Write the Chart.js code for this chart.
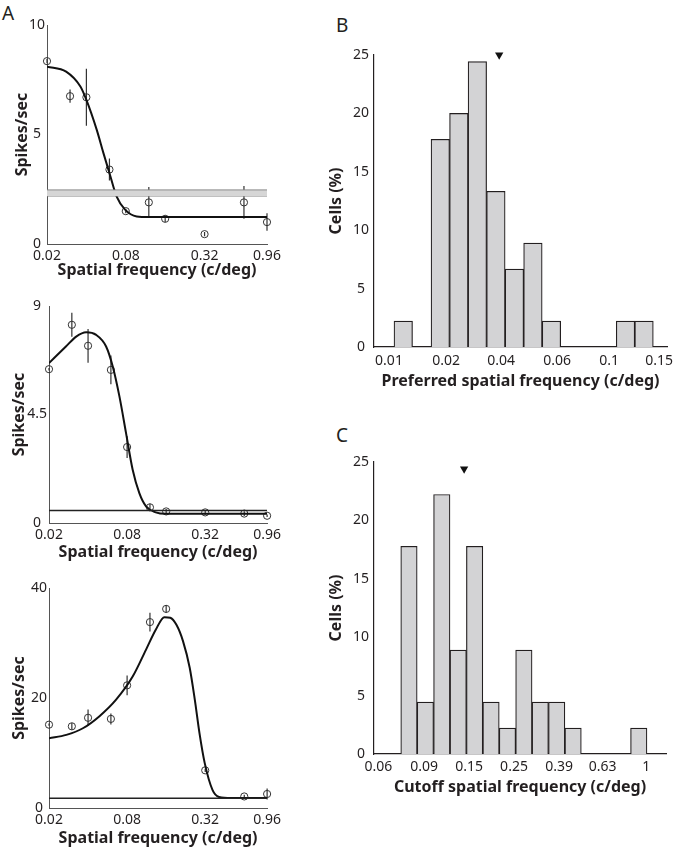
<!DOCTYPE html>
<html>
<head>
<meta charset="utf-8">
<title>Spatial frequency tuning</title>
<script src="https://cdn.jsdelivr.net/npm/chart.js@4.4.1/dist/chart.umd.min.js"></script>
<style>
  body { margin: 0; background: #fff; }
  #page { position: relative; width: 680px; height: 850px; overflow: hidden; }
  .panel { position: absolute; }
  .panel canvas { display: block; }
  .letter { position: absolute; font: 19px/19px 'Noto Sans', sans-serif; color: #231f20; }
</style>
</head>
<body>
<div id="page">
  <div class="letter" style="left:2px;top:4px">A</div>
  <div class="letter" style="left:336px;top:16px">B</div>
  <div class="letter" style="left:336px;top:426px">C</div>
  <div class="panel" style="left:0;top:0"><canvas id="tuning1" width="285" height="280"></canvas></div>
  <div class="panel" style="left:0;top:281px"><canvas id="tuning2" width="285" height="281"></canvas></div>
  <div class="panel" style="left:0;top:563px"><canvas id="tuning3" width="285" height="285"></canvas></div>
  <div class="panel" style="left:325px;top:25px"><canvas id="prefHist" width="355" height="366"></canvas></div>
  <div class="panel" style="left:325px;top:437px"><canvas id="cutoffHist" width="355" height="360"></canvas></div>
</div>
<script>
// ---- panel A: tuning curves of three example cells ----
const sfTested = [0.02, 0.03, 0.04, 0.06, 0.08, 0.12, 0.16, 0.32, 0.64, 0.96];
const sfTicks = [0.02, 0.08, 0.32, 0.96];

const cell1Mean = [8.35, 6.75, 6.7, 3.4, 1.5, 1.9, 1.15, 0.45, 1.9, 1.0];
const cell1Sem = [0.1, 0.3, 1.3, 0.5, 0.1, 0.7, 0.15, 0.1, 0.75, 0.4];
const cell1FitX = [0.02, 0.028, 0.036, 0.04, 0.048, 0.054, 0.061, 0.068, 0.079, 0.097, 0.12, 0.96];
const cell1FitY = [8.1, 7.87, 7.19, 6.58, 5.21, 4.15, 3.09, 2.17, 1.57, 1.26, 1.23, 1.23];
const cell1Spont = 2.33;
const cell1SpontSd = 0.14;
const cell1YTicks = [0, 5, 10];

const cell2Mean = [6.38, 8.22, 7.35, 6.35, 3.15, 0.65, 0.48, 0.44, 0.39, 0.3];
const cell2Sem = [0.05, 0.5, 0.7, 0.6, 0.45, 0.15, 0.1, 0.1, 0.1, 0.05];
const cell2FitX = [0.02, 0.027, 0.0324, 0.0387, 0.0462, 0.0551, 0.062, 0.0698, 0.0785, 0.0883, 0.0994, 0.112, 0.133, 0.159, 0.96];
const cell2FitY = [6.63, 7.32, 7.73, 7.91, 7.8, 7.32, 6.49, 5.25, 3.73, 2.21, 1.24, 0.69, 0.44, 0.38, 0.38];
const cell2Spont = 0.52;
const cell2YTicks = [0, 4.5, 9];

const cell3Mean = [15.15, 14.85, 16.4, 16.2, 22.3, 33.8, 36.2, 6.85, 2.1, 2.55];
const cell3Sem = [0.2, 0.6, 1.5, 1.0, 1.8, 1.7, 0.7, 0.3, 0.3, 1.0];
const cell3FitX = [0.02, 0.0272, 0.0365, 0.049, 0.0658, 0.0883, 0.112, 0.133, 0.155, 0.172, 0.192, 0.216, 0.243, 0.266, 0.289, 0.317, 0.364, 0.409, 0.508, 0.96];
const cell3FitY = [12.7, 13.3, 14.5, 16.7, 19.7, 23.9, 28.8, 32.4, 34.7, 34.6, 33.3, 30.3, 25.5, 19.7, 13.6, 8.2, 3.3, 2.0, 1.8, 1.8];
const cell3Spont = 1.76;
const cell3YTicks = [0, 20, 40];

// ---- panel B: preferred spatial frequency histogram (% of 45 cells) ----
const prefPct = [2.22, 0, 17.78, 20, 24.44, 13.33, 6.67, 8.89, 2.22, 0, 0, 0, 2.22, 2.22];
const prefTickLabels = ['0.01', '0.02', '0.04', '0.06', '0.1', '0.15'];
const prefTickBins = [-0.27, 2.81, 5.78, 8.81, 11.62, 14.32];
const prefMedianBin = 5.68;

// ---- panel C: cutoff spatial frequency histogram ----
const cutoffPct = [17.78, 4.44, 22.22, 8.89, 17.78, 4.44, 2.22, 8.89, 4.44, 4.44, 2.22, 0, 0, 0, 2.22];
const cutoffTickLabels = ['0.06', '0.09', '0.15', '0.25', '0.39', '0.63', '1'];
const cutoffTickBins = [-1.37, 1.42, 4.16, 6.9, 9.65, 12.3, 14.95];
const cutoffMedianBin = 3.86;

const pctTicks = [0, 5, 10, 15, 20, 25];

Chart.defaults.font.family = "'Noto Sans', sans-serif";
Chart.defaults.color = '#231f20';
Chart.defaults.animation = false;
Chart.defaults.plugins.legend.display = false;
Chart.defaults.plugins.tooltip.enabled = false;

const tickFont = {size: 14};
const titleFont = {size: 16, weight: 'bold'};

function hLine(y) {
    return [{x: sfTicks[0], y: y}, {x: sfTicks[sfTicks.length - 1], y: y}];
}

function errorBars(mean, sem) {
    let pts = [];
    for (let i = 0; i < sfTested.length; i++) {
        pts.push({x: sfTested[i], y: mean[i] - sem[i]});
        pts.push({x: sfTested[i], y: mean[i] + sem[i]});
        pts.push({x: sfTested[i], y: null});
    }
    return pts;
}

function makeTuning(id, mean, sem, fitX, fitY, spont, spontSd, yTicks, lay) {
    let datasets = [];
    if (spontSd) {
        datasets.push({data: hLine(spont + spontSd), borderColor: '#8a8a8a', borderWidth: 1,
            backgroundColor: '#d6d6d6', fill: '+1', pointRadius: 0});
        datasets.push({data: hLine(spont - spontSd), borderColor: '#8a8a8a', borderWidth: 1,
            fill: false, pointRadius: 0});
    }
    datasets.push({data: hLine(spont), borderColor: '#222', borderWidth: 1.5, pointRadius: 0});
    datasets.push({data: fitX.map((x, i) => ({x: x, y: fitY[i]})), borderColor: '#111',
        borderWidth: 2, pointRadius: 0, cubicInterpolationMode: 'monotone'});
    datasets.push({data: errorBars(mean, sem), borderColor: '#333', borderWidth: 1.2,
        pointRadius: 0, spanGaps: false, clip: false});
    datasets.push({data: sfTested.map((x, i) => ({x: x, y: mean[i]})), showLine: false,
        pointRadius: 3.6, pointBorderWidth: 1, pointBorderColor: '#333',
        pointBackgroundColor: 'rgba(0,0,0,0)', clip: false});

    new Chart(document.getElementById(id), {
        type: 'line',
        data: {datasets: datasets},
        options: {
            responsive: false,
            layout: {padding: {top: 25, right: 285 - lay.right, left: 0, bottom: 0}},
            scales: {
                x: {
                    type: 'logarithmic', min: sfTicks[0], max: sfTicks[sfTicks.length - 1],
                    afterBuildTicks: s => { s.ticks = sfTicks.map(v => ({value: v})); },
                    afterFit: s => { s.height = lay.xh; },
                    grid: {display: false, drawTicks: false},
                    border: {display: true, color: '#555', width: 1},
                    ticks: {autoSkip: false, maxRotation: 0, padding: 4, font: tickFont,
                        callback: v => String(v)},
                    title: {display: true, text: 'Spatial frequency (c/deg)', font: titleFont, padding: 0}
                },
                y: {
                    min: yTicks[0], max: yTicks[yTicks.length - 1],
                    afterBuildTicks: s => { s.ticks = yTicks.map(v => ({value: v})); },
                    afterFit: s => { s.width = lay.left; },
                    grid: {display: false, drawTicks: false},
                    border: {display: true, color: '#555', width: 1},
                    ticks: {crossAlign: 'center', padding: 2, font: tickFont, callback: v => String(v)},
                    title: {display: true, text: 'Spikes/sec', font: titleFont, padding: {top: lay.yPad, bottom: 0}}
                }
            }
        }
    });
}

function makeHist(id, pct, tickBins, tickLabels, medianBin, medianY, xMin, xMax, title, lay) {
    new Chart(document.getElementById(id), {
        type: 'bar',
        data: {
            datasets: [
                {
                    type: 'scatter',
                    data: [{x: medianBin, y: medianY}],
                    pointStyle: 'triangle', rotation: 180, pointRadius: 4.8,
                    backgroundColor: '#111', borderColor: '#111', borderWidth: 0, clip: false
                },
                {
                    data: pct.map((v, i) => ({x: i + 0.5, y: v})),
                    backgroundColor: '#d3d3d5', borderColor: '#231f20', borderWidth: 1.2,
                    barPercentage: 1, categoryPercentage: 1
                }
            ]
        },
        options: {
            responsive: false,
            layout: {padding: {top: lay.top, right: lay.right, left: 0, bottom: 0}},
            scales: {
                x: {
                    type: 'linear', offset: false, min: xMin, max: xMax,
                    afterBuildTicks: s => { s.ticks = tickBins.map(v => ({value: v})); },
                    afterFit: s => { s.height = lay.xh; },
                    grid: {display: false, drawTicks: false},
                    border: {display: true, color: '#231f20', width: 1.2},
                    ticks: {autoSkip: false, maxRotation: 0, padding: lay.tickPad, font: tickFont,
                        callback: (v, i) => tickLabels[i]},
                    title: {display: true, text: title, font: titleFont, padding: 0}
                },
                y: {
                    min: 0, max: pctTicks[pctTicks.length - 1],
                    afterBuildTicks: s => { s.ticks = pctTicks.map(v => ({value: v})); },
                    afterFit: s => { s.width = 49; },
                    grid: {display: false, drawTicks: false},
                    border: {display: true, color: '#231f20', width: 1.2},
                    ticks: {crossAlign: 'center', padding: 5, font: tickFont, callback: v => String(v)},
                    title: {display: true, text: 'Cells (%)', font: titleFont, padding: {top: 2, bottom: 0}}
                }
            }
        }
    });
}

makeTuning('tuning1', cell1Mean, cell1Sem, cell1FitX, cell1FitY, cell1Spont, cell1SpontSd, cell1YTicks,
    {left: 47, right: 267, xh: 36, yPad: 13});
makeTuning('tuning2', cell2Mean, cell2Sem, cell2FitX, cell2FitY, cell2Spont, 0, cell2YTicks,
    {left: 49, right: 268, xh: 39, yPad: 10});
makeTuning('tuning3', cell3Mean, cell3Sem, cell3FitX, cell3FitY, cell3Spont, 0, cell3YTicks,
    {left: 49, right: 268, xh: 40, yPad: 10});

makeHist('prefHist', prefPct, prefTickBins, prefTickLabels, prefMedianBin, 25, -1.08, 14.74,
    'Preferred spatial frequency (c/deg)', {top: 30, right: 13, xh: 44, tickPad: 6});
makeHist('cutoffHist', cutoffPct, cutoffTickBins, cutoffTickLabels, cutoffMedianBin, 24.4, -1.63, 16.16,
    'Cutoff spatial frequency (c/deg)', {top: 25, right: 14, xh: 43, tickPad: 5});
</script>
</body>
</html>
